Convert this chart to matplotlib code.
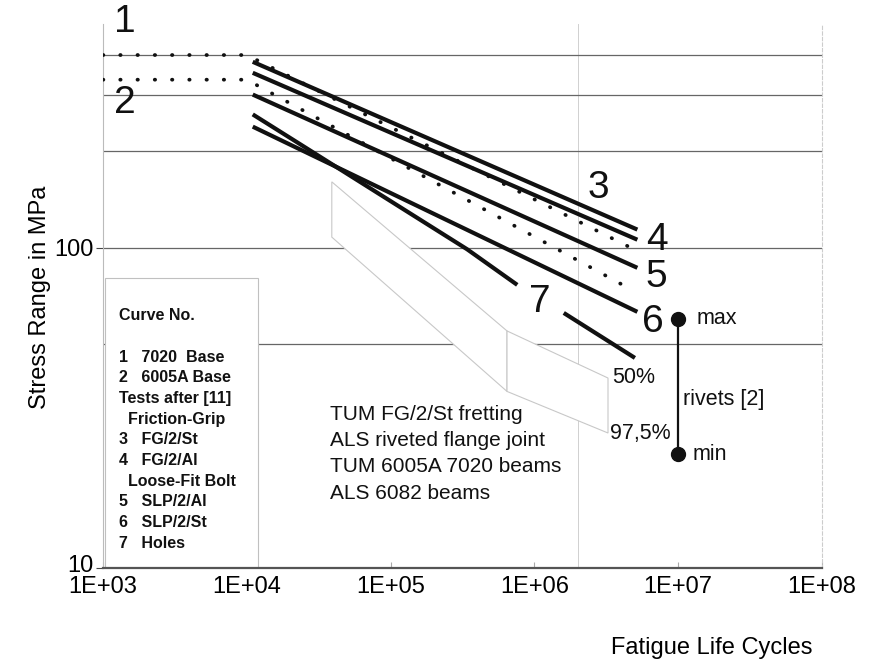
import numpy as np
import matplotlib
matplotlib.use("Agg")
import matplotlib.pyplot as plt
from matplotlib.patches import Polygon, Rectangle
from matplotlib.transforms import ScaledTranslation

plt.rcParams['font.family'] = ['Liberation Sans', 'DejaVu Sans']

# --- data ---
x_ticks = [1e3, 1e4, 1e5, 1e6, 1e7, 1e8]
x_ticklabels = ["1E+03", "1E+04", "1E+05", "1E+06", "1E+07", "1E+08"]
y_ticks = [10, 100]
y_grid = [50, 200, 300, 400]

# curves 1, 2: base material (dotted)
base_N = [1e3, 1e4, 5.0e6]
base_7020_S = [400, 400, 98.6]
base_6005A_S = [335, 335, 73.0]

# curves 3..6: bolted joints
joint_N = [1.1e4, 5.2e6]
fg_st_S = [381, 114]
fg_al_S = [352, 106]
slp_al_S = [301, 86.6]
slp_st_S = [239, 63.1]

# curve 7: holes (gap where the label sits)
holes_N = [1.1e4, 3.4e5, 7.6e5, np.nan, 1.6e6, 5.0e6]
holes_S = [261, 99, 76.6, np.nan, 62.6, 45.3]

# riveted flange joint scatter band
band_N = [3.9e4, 6.45e5, 3.25e6]
band_50 = [160.7, 55.0, 39.2]
band_975 = [108.0, 35.6, 26.4]

# rivets [2]
rivet_N = [1e7, 1e7]
rivet_S = [60, 22.7]

legend_rows = ["Curve No.", "",
               "1   7020  Base", "2   6005A Base", "Tests after [11]",
               "  Friction-Grip", "3   FG/2/St", "4   FG/2/Al",
               "  Loose-Fit Bolt", "5   SLP/2/Al", "6   SLP/2/St", "7   Holes"]
notes = ["TUM FG/2/St fretting", "ALS riveted flange joint",
         "TUM 6005A 7020 beams", "ALS 6082 beams"]

# --- figure ---
fig = plt.figure(figsize=(8.74, 6.62), dpi=100)
ax = fig.add_axes([103 / 874, 94 / 662, 719 / 874, 544 / 662])
ax.set_xscale('log')
ax.set_yscale('log')
ax.set_xlim(1e3, 1e8)
ax.set_ylim(10, 500)

ax.set_xticks(x_ticks)
ax.set_xticklabels(x_ticklabels)
ax.set_yticks(y_ticks)
ax.set_yticklabels([str(v) for v in y_ticks])
ax.set_yticks(y_grid, minor=True)
ax.set_xticks([2e6], minor=True)
ax.yaxis.set_minor_formatter(plt.NullFormatter())
ax.xaxis.set_minor_formatter(plt.NullFormatter())
ax.tick_params(axis='x', which='major', direction='in', length=4, color='#aaaaaa',
               labelsize=17, pad=6)
ax.tick_params(axis='x', which='minor', length=0)
ax.tick_params(axis='y', which='major', direction='out', length=5, color='#444444',
               labelsize=17, pad=2)
ax.tick_params(axis='y', which='minor', length=0)

# "10" sits a little above the x labels
lab10 = ax.get_yticklabels()[0]
lab10.set_transform(lab10.get_transform() +
                    ScaledTranslation(0, 5 / 100, fig.dpi_scale_trans))

ax.set_axisbelow(True)
ax.yaxis.grid(True, which='both', color='#666666', lw=0.9)
ax.xaxis.grid(True, which='minor', color='#d0d0d0', lw=0.7)

ax.spines['top'].set_visible(False)
ax.spines['bottom'].set_color('#555555')
ax.spines['bottom'].set_linewidth(1.6)
ax.spines['left'].set_color('#bbbbbb')
ax.spines['left'].set_linewidth(0.8)
ax.spines['right'].set_color('#cccccc')
ax.spines['right'].set_linewidth(0.8)
ax.spines['right'].set_linestyle((0, (3, 2)))

# scatter band (white patches with faint edges)
for i in range(len(band_N) - 1):
    verts = [(band_N[i], band_50[i]), (band_N[i + 1], band_50[i + 1]),
             (band_N[i + 1], band_975[i + 1]), (band_N[i], band_975[i])]
    ax.add_patch(Polygon(verts, closed=True, facecolor='white',
                         edgecolor='#c8c8c8', lw=0.8, zorder=1.5))

# legend box
ax.add_patch(Rectangle((0.003, 0.0), 0.213, 0.533, transform=ax.transAxes,
                       facecolor='white', edgecolor='#c0c0c0', lw=0.8, zorder=1.6))

dot = dict(color='#111111', lw=2.7, linestyle=(0, (0.1, 4.5)),
           dash_capstyle='round', zorder=3)
ax.plot(base_N, base_7020_S, **dot)
ax.plot(base_N, base_6005A_S, **dot)

solid = dict(color='#111111', lw=3.0, solid_capstyle='butt', zorder=3)
for s in [fg_st_S, fg_al_S, slp_al_S, slp_st_S]:
    ax.plot(joint_N, s, **solid)
ax.plot(holes_N, holes_S, **solid)

ax.plot(rivet_N, rivet_S, color='#111111', lw=1.6, marker='o', markersize=10,
        zorder=3)

# curve numbers
big = dict(fontsize=28, ha='center', va='center', color='#111111', zorder=4)
ax.text(1.42e3, 508, "1", clip_on=False, **big)
ax.text(1.42e3, 284, "2", **big)
ax.text(2.77e6, 154, "3", **big)
ax.text(7.1e6, 106, "4", **big)
ax.text(7.0e6, 81, "5", **big)
ax.text(6.7e6, 58.7, "6", **big)
ax.text(1.09e6, 67.8, "7", **big)

mid = dict(fontsize=15.5, va='center', color='#111111', zorder=4)
ax.text(1.35e7, 60, "max", **mid)
ax.text(1.25e7, 22.7, "min", **mid)
ax.text(1.08e7, 33.5, "rivets [2]", **mid)
ax.text(3.45e6, 39.3, "50%", **mid)
ax.text(3.38e6, 26.4, "97,5%", **mid)

for i, line in enumerate(notes):
    fig.text(330 / 874, 1 - (414 + 26.5 * i) / 662, line, fontsize=15,
             va='center', ha='left', color='#111111')

for i, row in enumerate(legend_rows):
    if not row:
        continue
    y = 315 if i == 0 else 357 + 20.7 * (i - 2)
    fig.text(119 / 874, 1 - y / 662, row, fontsize=11.5, fontweight='bold',
             va='center', ha='left', color='#111111', zorder=5)

fig.text(40 / 874, 1 - 297 / 662, "Stress Range in MPa", rotation=90,
         fontsize=17, ha='center', va='center')
fig.text(712 / 874, 1 - 648 / 662, "Fatigue Life Cycles",
         fontsize=17, ha='center', va='center')

fig.savefig("out.png", dpi=100, facecolor='white')
